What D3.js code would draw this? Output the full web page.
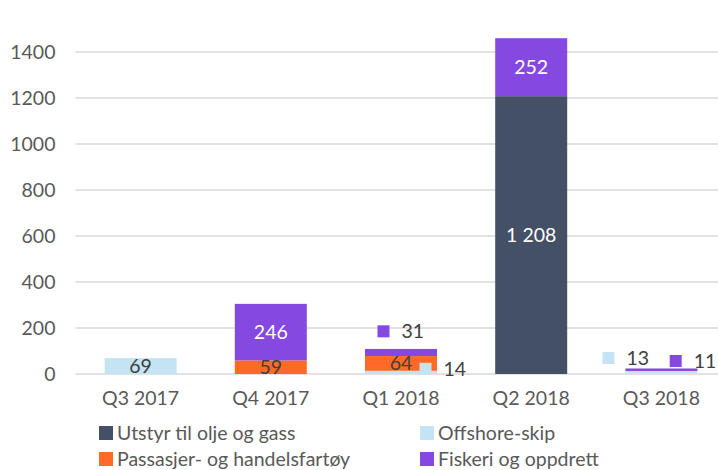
<!DOCTYPE html>
<html>
<head>
<meta charset="utf-8">
<script src="https://cdn.jsdelivr.net/npm/d3@7"></script>
<style>
  html, body { margin: 0; padding: 0; background: #fff; }
  svg { display: block; font-family: Lato, "Open Sans", sans-serif; }
</style>
</head>
<body>
<div class="chart"></div>
<script>
const width = 718
const height = 470

const quarters = ["Q3 2017", "Q4 2017", "Q1 2018", "Q2 2018", "Q3 2018"]
const seriesNames = ["Utstyr til olje og gass", "Offshore-skip", "Passasjer- og handelsfartøy", "Fiskeri og oppdrett"]
const utstyr = [0, 0, 0, 1208, 0]
const offshore = [69, 0, 14, 0, 13]
const passasjer = [0, 59, 64, 0, 0]
const fiskeri = [0, 246, 31, 252, 11]
const yTicks = [0, 200, 400, 600, 800, 1000, 1200, 1400]

const colors = ["#445065", "#c4e4f3", "#ff6a26", "#8549e2"]

// small slices get an outside label with a colour key (like the excel callouts)
const callouts = {
  "Q1 2018|Fiskeri og oppdrett": {dx: -23.5, dy: -17.6},
  "Q1 2018|Offshore-skip": {dx: 18.5, dy: -2},
  "Q3 2018|Offshore-skip": {dx: -59, dy: -13},
  "Q3 2018|Fiskeri og oppdrett": {dx: 8.3, dy: -7.5}
}

const table = quarters.map((q, i) => ({
  quarter: q,
  [seriesNames[0]]: utstyr[i],
  [seriesNames[1]]: offshore[i],
  [seriesNames[2]]: passasjer[i],
  [seriesNames[3]]: fiskeri[i]
}))

const stacked = d3.stack().keys(seriesNames)(table)

const x = d3.scaleBand()
  .domain(quarters)
  .range([75.5, 726.5])
  .paddingInner(0.447)
  .paddingOuter(0.2235)

const y = d3.scaleLinear()
  .domain([0, 1600])
  .range([374, 6])

const color = d3.scaleOrdinal()
  .domain(seriesNames)
  .range(colors)

const svg = d3.create("svg")
  .attr("width", width)
  .attr("height", height)
  .attr("viewBox", [0, 0, width, height])

// grid
svg.append("g")
  .selectAll("line")
  .data(yTicks)
  .join("line")
  .attr("x1", 75.5)
  .attr("x2", width)
  .attr("y1", d => y(d))
  .attr("y2", d => y(d))
  .attr("stroke", "#d9d9d9")
  .attr("stroke-width", 1.5)

const yAxis = svg.append("g")
  .attr("transform", "translate(75.5,0)")
  .call(d3.axisLeft(y).tickValues(yTicks).tickSize(0).tickPadding(20).tickFormat(d3.format("d")))
yAxis.select(".domain").remove()
yAxis.selectAll("text")
  .style("font-size", "19.5px")
  .style("font-family", "Lato, sans-serif")
  .attr("fill", "#595959")

const xAxis = svg.append("g")
  .attr("transform", `translate(0,${y(0)})`)
  .call(d3.axisBottom(x).tickSize(0).tickPadding(17))
xAxis.select(".domain").remove()
xAxis.selectAll("text")
  .style("font-size", "19.5px")
  .style("font-family", "Lato, sans-serif")
  .attr("fill", "#595959")

// bars
const layers = svg.append("g")
  .selectAll("g")
  .data(stacked)
  .join("g")
  .attr("fill", d => color(d.key))

layers.selectAll("rect")
  .data(d => d.map(s => ({key: d.key, seg: s})))
  .join("rect")
  .attr("x", d => x(d.seg.data.quarter))
  .attr("width", x.bandwidth())
  .attr("y", d => y(d.seg[1]))
  .attr("height", d => y(d.seg[0]) - y(d.seg[1]))

// labels
const fmt = v => d3.format(",")(v).replace(/,/g, " ")
const labels = svg.append("g")
  .style("font-family", "Lato, sans-serif")
  .style("font-size", "19.5px")

stacked.forEach(layer => {
  layer.forEach(seg => {
    const v = seg[1] - seg[0]
    if (v <= 0) return
    const q = seg.data.quarter
    const cx = x(q) + x.bandwidth() / 2
    const co = callouts[q + "|" + layer.key]
    if (co) {
      const top = y(seg[1])
      labels.append("rect")
        .attr("x", cx + co.dx)
        .attr("y", top + co.dy - 6)
        .attr("width", 12)
        .attr("height", 12)
        .attr("fill", color(layer.key))
      labels.append("text")
        .attr("x", cx + co.dx + 24)
        .attr("y", top + co.dy + 7)
        .attr("fill", "#404040")
        .text(fmt(v))
    } else {
      const dark = layer.key === seriesNames[0] || layer.key === seriesNames[3]
      labels.append("text")
        .attr("x", cx)
        .attr("y", (y(seg[0]) + y(seg[1])) / 2)
        .attr("dy", "0.36em")
        .attr("text-anchor", "middle")
        .attr("fill", dark ? "#ffffff" : "#404040")
        .text(fmt(v))
    }
  })
})

// legend
const legendPos = [[99, 433], [420, 433], [99, 459], [420, 459]]
const legend = svg.append("g")
  .selectAll("g")
  .data(seriesNames)
  .join("g")
  .attr("transform", (d, i) => `translate(${legendPos[i][0]},${legendPos[i][1]})`)

legend.append("rect")
  .attr("x", 0)
  .attr("y", -7)
  .attr("width", 14)
  .attr("height", 14)
  .attr("fill", d => color(d))

legend.append("text")
  .attr("x", 18)
  .attr("y", 7)
  .style("font-size", "19.5px")
  .attr("fill", "#595959")
  .text(d => d)

document.querySelector(".chart").append(svg.node())
</script>
</body>
</html>
